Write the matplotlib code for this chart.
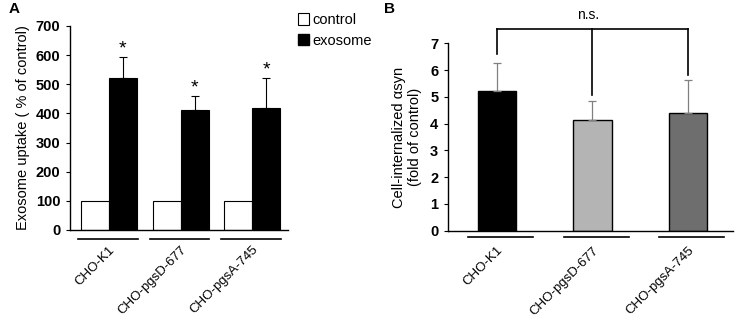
import numpy as np
import matplotlib.pyplot as plt
from matplotlib.patches import Patch

plt.rcParams['font.family'] = ['Liberation Sans', 'DejaVu Sans']

# Data
cellLines = ["CHO-K1", "CHO-pgsD-677", "CHO-pgsA-745"]
controlUptake = [100, 100, 100]
exosomeUptake = [521, 410, 419]
exosomeErr = [71, 48, 102]

internalized = [5.2, 4.13, 4.4]
internalizedErr = [1.07, 0.71, 1.24]
barColors = ["#000000", "#b4b4b4", "#6e6e6e"]

fig = plt.figure(figsize=(7.43, 3.23), dpi=100)

# Panel A
axA = fig.add_axes([0.0942, 0.288, 0.2934, 0.6316])
x = np.arange(len(cellLines))
w = 0.39
axA.bar(x - w / 2, controlUptake, w, color="white", edgecolor="black", linewidth=0.8)
axA.bar(x + w / 2, exosomeUptake, w, color="black", edgecolor="black", linewidth=0.8)
axA.errorbar(x + w / 2, exosomeUptake, yerr=[np.zeros(3), exosomeErr], fmt="none",
             ecolor="black", elinewidth=0.8, capsize=3, capthick=0.8)
for xi, v, e in zip(x, exosomeUptake, exosomeErr):
    axA.text(xi + w / 2, v + e, "*", ha="center", va="bottom", fontsize=14)
axA.set_xlim(-0.545, 2.5)
axA.set_ylim(0, 700)
axA.set_yticks(np.arange(0, 701, 100))
axA.set_ylabel("Exosome uptake ( % of control)", fontsize=10.5, labelpad=4)

# Panel B
axB = fig.add_axes([0.603, 0.2858, 0.3835, 0.5802])
wb = 0.4
axB.bar(x, internalized, wb, color=barColors, edgecolor="black", linewidth=1.0)
axB.errorbar(x, internalized, yerr=[np.zeros(3), internalizedErr], fmt="none",
             ecolor="#808080", elinewidth=0.9, capsize=3, capthick=0.9)
axB.set_xlim(-0.51, 2.47)
axB.set_ylim(0, 7)
axB.set_yticks(np.arange(0, 8, 1))
axB.set_ylabel("Cell-internalized \u03b1syn\n(fold of control)", fontsize=10.5, labelpad=6)

# n.s. bracket
bracketTop = 7.55
bracketFeet = [6.59, 5.06, 5.81]
axB.plot([x[0], x[-1]], [bracketTop, bracketTop], color="black", lw=1.2, clip_on=False)
for xi, yb in zip(x, bracketFeet):
    axB.plot([xi, xi], [yb, bracketTop], color="black", lw=1.2, clip_on=False)
axB.text(0.95, bracketTop + 0.25, "n.s.", ha="center", va="bottom", fontsize=10)

for ax, lineY, lo, hi in [(axA, -0.044, -0.43, 0.4), (axB, -0.032, -0.3, 0.38)]:
    for s in ["top", "right"]:
        ax.spines[s].set_visible(False)
    ax.spines["left"].set_linewidth(1.0)
    ax.spines["bottom"].set_linewidth(1.0)
    ax.tick_params(axis="y", direction="out", length=3, width=0.8, labelsize=10.5, pad=4)
    for lab in ax.get_yticklabels():
        lab.set_fontweight("bold")
    ax.set_xticks(x)
    ax.set_xticklabels(cellLines, rotation=45, ha="right", va="top",
                       rotation_mode="anchor", fontsize=9.5)
    ax.tick_params(axis="x", length=0, pad=10)
    trans = ax.get_xaxis_transform()
    for xi in x:
        ax.plot([xi + lo, xi + hi], [lineY, lineY], color="black", lw=1.2,
                transform=trans, clip_on=False)

# Legend
handles = [Patch(facecolor="white", edgecolor="black", linewidth=0.8, label="control"),
           Patch(facecolor="black", edgecolor="black", label="exosome")]
fig.legend(handles=handles, loc="upper left", bbox_to_anchor=(0.383, 1.0),
           frameon=False, fontsize=10.5, handlelength=0.8, handleheight=0.8,
           handletextpad=0.2, labelspacing=0.45)

fig.text(0.012, 0.995, "A", fontsize=11, fontweight="bold", va="top")
fig.text(0.517, 0.995, "B", fontsize=11, fontweight="bold", va="top")

fig.savefig("out.png", dpi=100)
